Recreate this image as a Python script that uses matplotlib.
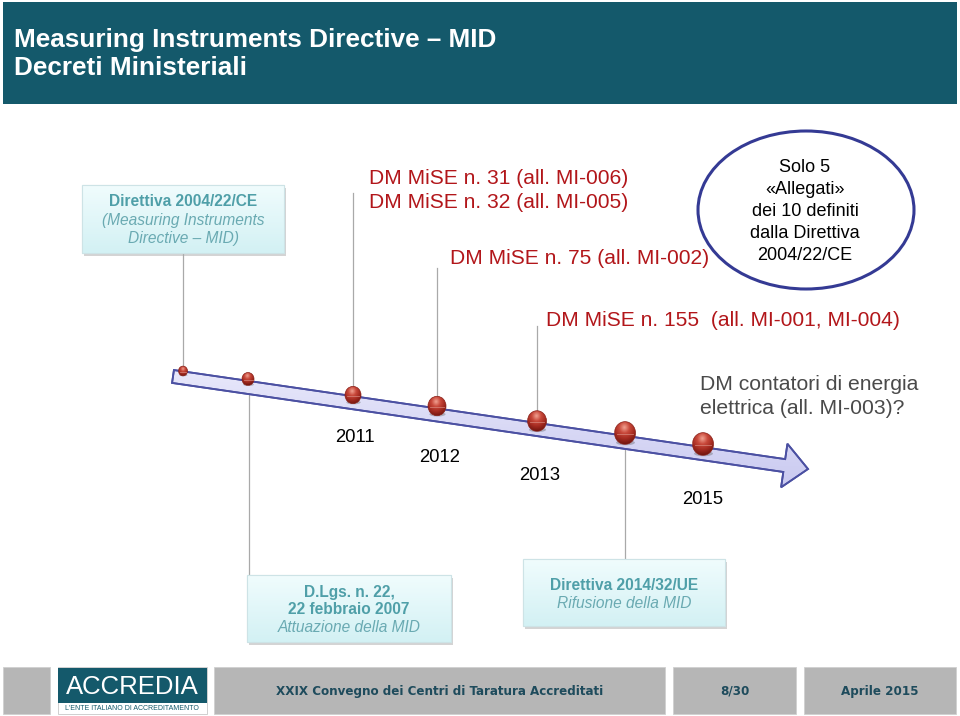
import matplotlib
matplotlib.use("agg")
from matplotlib import pyplot as plt
from matplotlib.patches import Rectangle, Ellipse, Polygon
from matplotlib.colors import LinearSegmentedColormap
import numpy as np

# ---- slide content ----
title_lines = ["Measuring Instruments Directive \u2013 MID", "Decreti Ministeriali"]

years = ["2011", "2012", "2013", "2015"]
year_pos = [(355, 438), (440, 458), (540, 476), (703, 499)]

# milestones on the arrow: (x, y, radius)
ball_x = [183, 248, 353, 437, 537, 625, 703]
ball_y = [371, 379, 395, 406, 421, 433, 444]
ball_r = [4.5, 6, 8, 9, 9.5, 10.5, 10.5]

dm_labels = ["DM MiSE n. 31 (all. MI-006)", "DM MiSE n. 32 (all. MI-005)",
             "DM MiSE n. 75 (all. MI-002)", "DM MiSE n. 155  (all. MI-001, MI-004)"]
dm_pos = [(369, 179), (369, 203), (450, 259), (546, 320)]

contatori = ["DM contatori di energia", "elettrica (all. MI-003)?"]

circle_lines = ["Solo 5", "\u00abAllegati\u00bb", "dei 10 definiti", "dalla Direttiva", "2004/22/CE"]

box_mid = [("Direttiva 2004/22/CE", "bold"), ("(Measuring Instruments", "italic"), ("Directive \u2013 MID)", "italic")]
box_dlgs = [("D.Lgs. n. 22,", "bold"), ("22 febbraio 2007", "bold"), ("Attuazione della MID", "italic")]
box_2014 = [("Direttiva 2014/32/UE", "bold"), ("Rifusione della MID", "italic")]

# connectors: x, y_start, y_end
connectors = [(183, 253, 371), (249, 379, 575), (353, 193, 395),
              (437, 268, 406), (537, 326, 421), (625, 433, 559)]

footer_text = ["XXIX Convegno dei Centri di Taratura Accreditati", "8/30", "Aprile 2015"]

HEADER = "#14596b"
RED = "#b2161a"
TEAL_TXT = "#4f9fa8"
FOOT_TXT = "#1e4b5c"

fig = plt.figure(figsize=(9.6, 7.16), dpi=100)
ax = fig.add_axes([0, 0, 1, 1])
ax.set_xlim(0, 960)
ax.set_ylim(716, 0)
ax.axis("off")
SANS = ["Liberation Sans", "DejaVu Sans"]


def grad_patch(patch, colors, extent, z):
    patch.set_facecolor("none")
    ax.add_patch(patch)
    arr = np.linspace(0, 1, 64).reshape(-1, 1)
    cmap = LinearSegmentedColormap.from_list("g", colors)
    x0, x1, y0, y1 = extent
    im = ax.imshow(arr, cmap=cmap, extent=(x0, x1, y1, y0), aspect="auto",
                   origin="upper", interpolation="bilinear", zorder=z)
    im.set_clip_path(patch)


# header
ax.add_patch(Rectangle((3, 2), 954, 102, facecolor=HEADER, edgecolor="none", zorder=1))
for i, line in enumerate(title_lines):
    ax.text(14, 40 + i * 28, line, color="white", fontsize=18.8, fontweight="bold",
            family=SANS, va="center", ha="left", zorder=2)


def text_box(x0, y0, w, h, lines, ys, z=3):
    ax.add_patch(Rectangle((x0 + 2, y0 + 3), w, h, facecolor="#b8b8b8", edgecolor="none",
                           alpha=0.6, zorder=z - 1))
    p = Rectangle((x0, y0), w, h, edgecolor="#cfe6ea", lw=0.8, zorder=z)
    grad_patch(p, ["#f0fcfd", "#d3f1f4"], (x0, x0 + w, y0, y0 + h), z)
    ax.add_patch(Rectangle((x0, y0), w, h, facecolor="none", edgecolor="#cde3e6", lw=0.8, zorder=z + 1))
    for (s, style), y in zip(lines, ys):
        ax.text(x0 + w / 2, y, s, ha="center", va="center", fontsize=11.2, family=SANS,
                color=TEAL_TXT if style == "bold" else "#6aaab2",
                fontweight="bold" if style == "bold" else "normal",
                fontstyle="italic" if style == "italic" else "normal", zorder=z + 2)


text_box(82, 185, 202, 68, box_mid, [202, 220, 238])
text_box(247, 575, 204, 67, box_dlgs, [592, 609, 628])
text_box(523, 559, 202, 67, box_2014, [585, 603])

# connectors
for x, ya, yb in connectors:
    ax.plot([x, x], [ya, yb], color="#a9a9a9", lw=0.9, zorder=2)

# arrow
p0 = np.array([173.0, 376.5])
tip = np.array([808.0, 469.0])
d = (tip - p0) / np.linalg.norm(tip - p0)
n = np.array([-d[1], d[0]])
bw, hw, hl = 6.5, 22.0, 24.0
hb = tip - d * hl
pts = [p0 - n * bw, hb - n * bw, hb - n * hw, tip, hb + n * hw, hb + n * bw, p0 + n * bw]
arrow = Polygon(pts, closed=True, edgecolor="#4b50a2", lw=1.3, zorder=5)
grad_patch(arrow, ["#e9e9fb", "#c9c9f0"], (170, 812, 365, 490), 4)
ax.add_patch(Polygon(pts, closed=True, facecolor="none", edgecolor="#4b50a2", lw=1.3, zorder=5))

# balls
ball_cmap = LinearSegmentedColormap.from_list("ball", ["#f0a090", "#c8483a", "#a32a20", "#6e140e"])
g = np.linspace(-1, 1, 80)
gx, gy = np.meshgrid(g, g)
shade = np.clip(np.hypot(gx + 0.1, gy + 0.45) / 1.5, 0, 1)
for x, y, r in zip(ball_x, ball_y, ball_r):
    ry = r * 1.08
    ax.add_patch(Ellipse((x + 0.5, y + ry * 0.85), 2 * r * 0.9, r * 0.5, facecolor="#555555",
                         alpha=0.35, edgecolor="none", zorder=6))
    e = Ellipse((x, y), 2 * r, 2 * ry, facecolor="none", edgecolor="#8a2018", lw=0.5, zorder=8)
    ax.add_patch(e)
    im = ax.imshow(shade, cmap=ball_cmap, extent=(x - r, x + r, y + ry, y - ry), aspect="auto",
                   origin="upper", interpolation="bilinear", zorder=7)
    im.set_clip_path(e)
    ax.plot([x - r * 0.75, x + r * 0.75], [y + 0.5, y + 0.5], color="#d98a80", lw=0.6,
            alpha=0.8, zorder=8)

# years
for s, (x, y) in zip(years, year_pos):
    ax.text(x, y, s, ha="center", va="center", fontsize=13.3, family=SANS, color="black", zorder=9)

# red decree labels
for s, (x, y) in zip(dm_labels, dm_pos):
    ax.text(x, y, s, ha="left", va="center", fontsize=15.1, family=SANS, color=RED, zorder=9)

for i, s in enumerate(contatori):
    ax.text(700, 384 + i * 24, s, ha="left", va="center", fontsize=15.2, family=SANS,
            color="#4a4a4a", zorder=9)

# ellipse note
ax.add_patch(Ellipse((806, 210), 216, 158, facecolor="white", edgecolor="#343a94", lw=2.2, zorder=9))
for i, s in enumerate(circle_lines):
    ax.text(805, 167 + i * 22.2, s, ha="center", va="center", fontsize=13, family=SANS,
            color="black", zorder=10)

# footer
panels = [(3, 50), (214, 665), (673, 796), (804, 956)]
for x0, x1 in panels:
    ax.add_patch(Rectangle((x0, 667), x1 - x0, 47, facecolor="#b6b6b6", edgecolor="#d0d0d0",
                           lw=0.6, zorder=1))
for s, (x0, x1) in zip(footer_text, panels[1:]):
    ax.text((x0 + x1) / 2, 691, s, ha="center", va="center", fontsize=9.5, fontweight="bold",
            family="DejaVu Sans", fontstretch="condensed", color=FOOT_TXT, zorder=2)

# logo
ax.add_patch(Rectangle((58, 667), 149, 47, facecolor="white", edgecolor="#c8c8c8", lw=0.6, zorder=2))
ax.add_patch(Rectangle((58, 668), 149, 35, facecolor=HEADER, edgecolor="none", zorder=3))
ax.text(132, 687, "ACCREDIA", ha="center", va="center", fontsize=18.5, family=SANS,
        color="white", zorder=4)
ax.text(132, 708.5, "L'ENTE ITALIANO DI ACCREDITAMENTO", ha="center", va="center",
        fontsize=5, family=SANS, color=HEADER, zorder=4)

ax.set_xlim(0, 960)
ax.set_ylim(716, 0)
fig.savefig("out.png", dpi=100)
